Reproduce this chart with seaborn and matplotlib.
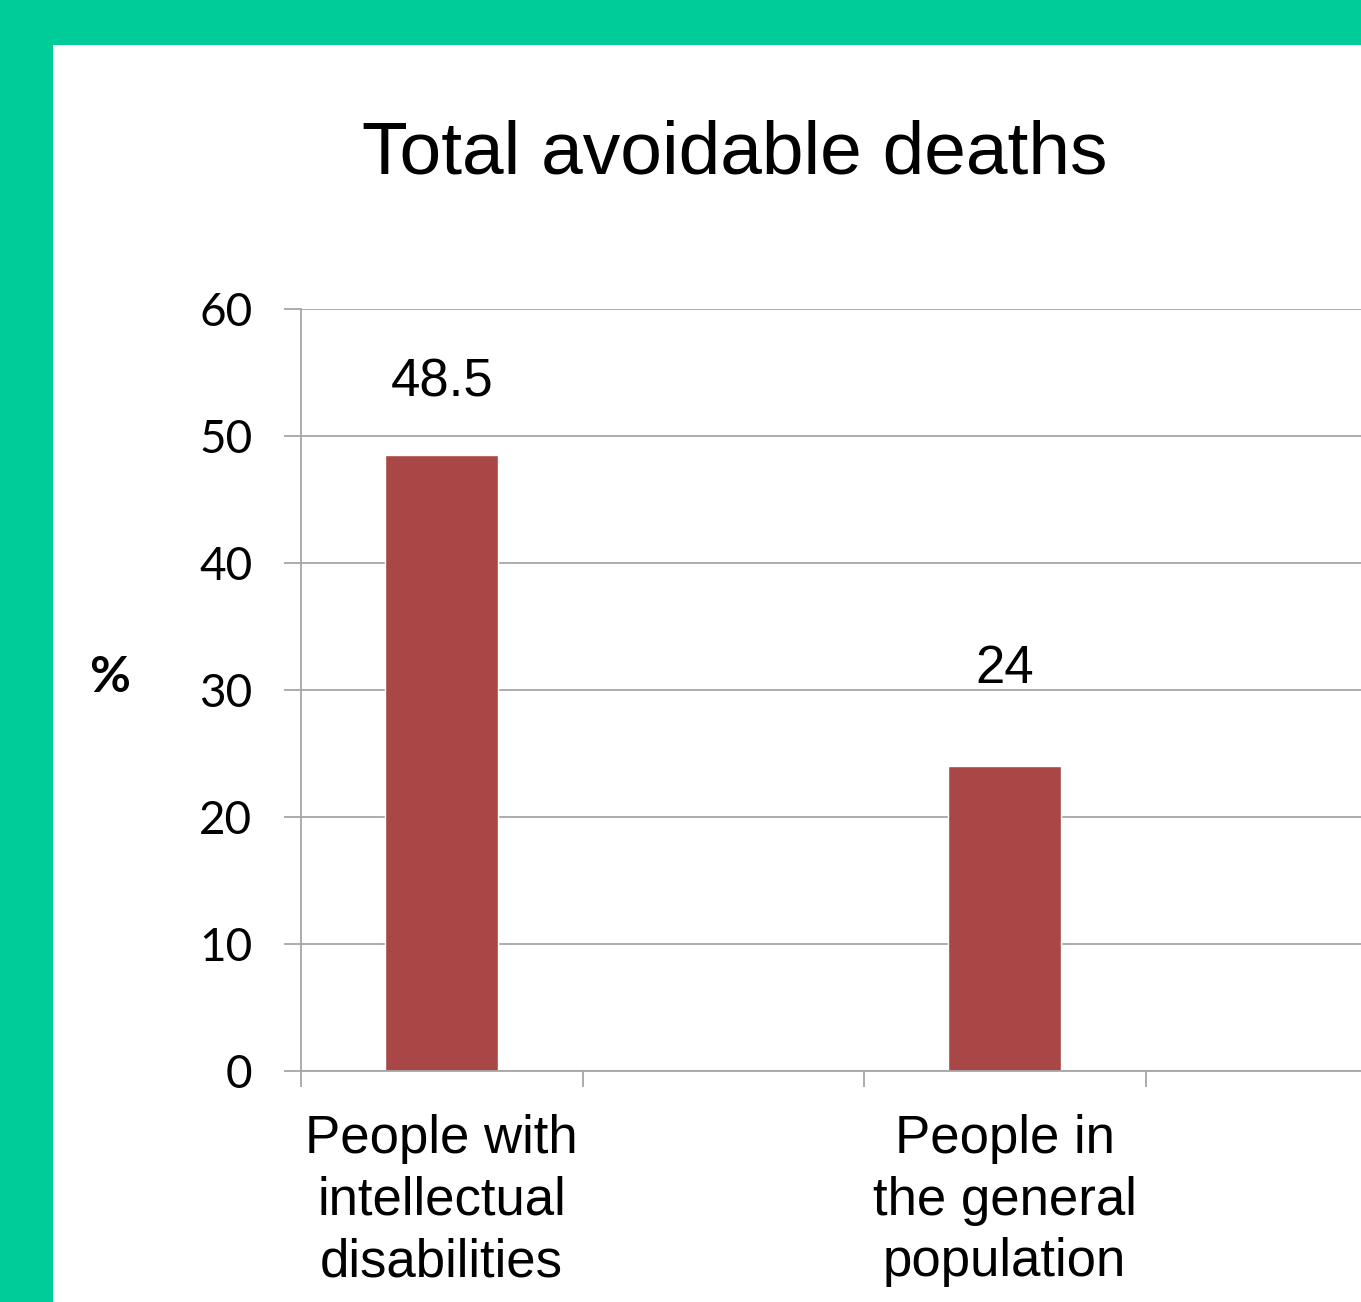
import matplotlib
matplotlib.use("Agg")
import matplotlib.pyplot as plt
import matplotlib.patches as mpatches
import seaborn as sns
import pandas as pd

# ---- data ----
categories = ["People with\nintellectual\ndisabilities", "People in\nthe general\npopulation"]
values = [48.5, 24]
value_labels = ["48.5", "24"]
y_ticks = [0, 10, 20, 30, 40, 50, 60]
title_text = "Total avoidable deaths"
y_label_text = "%"

# ---- style ----
GREEN = "#00CC99"
BAR = "#A84745"
GRID = "#A6A6A6"
label_offsets_pt = [52, 70]

sns.set_theme(style="white")
plt.rcParams["font.family"] = ["Liberation Sans", "DejaVu Sans"]

W, H = 1361, 1302
fig = plt.figure(figsize=(W / 100, H / 100), dpi=100)
fig.patch.set_facecolor(GREEN)
fig.patches.append(mpatches.Rectangle((53 / W, 0), 1, 1 - 45 / H, transform=fig.transFigure,
                                      facecolor="white", edgecolor="none", zorder=-5))

left, bottom = 301 / W, 1 - 1071 / H
ax = fig.add_axes([left, bottom, 1126 / W, 762 / H])
ax.set_zorder(2)
ax.set_facecolor("none")

df = pd.DataFrame({"cat": categories, "val": values})
sns.barplot(data=df, x="cat", y="val", color=BAR, width=0.2, saturation=1, ax=ax, zorder=3)

ax.set_xlim(-0.25, 1.75)
ax.set_ylim(0, 60)
ax.set_yticks(y_ticks)
ax.set_xlabel("")
ax.set_ylabel("")

for s in ["top", "right"]:
    ax.spines[s].set_visible(False)
for s in ["left", "bottom"]:
    ax.spines[s].set_color(GRID)
    ax.spines[s].set_linewidth(1.3)
    ax.spines[s].set_zorder(4)

ax.yaxis.grid(True, color=GRID, linewidth=1.3, zorder=0)
ax.set_axisbelow(True)

ax.tick_params(axis="y", which="major", direction="out", length=12, width=1.3, color=GRID,
               pad=23, left=True, labelsize=33, labelcolor="black")
for t in ax.get_yticklabels():
    t.set_fontfamily(["Lato", "DejaVu Sans"])

ax.set_xticks([-0.25, 0.25, 0.75, 1.25], minor=True)
ax.tick_params(axis="x", which="minor", direction="out", length=11.5, width=1.3, color=GRID, bottom=True)
ax.tick_params(axis="x", which="major", length=0, pad=31, labelsize=38, labelcolor="black")
for t in ax.get_xticklabels():
    t.set_linespacing(1.30)
    t.set_horizontalalignment("center")

for i, (v, lab) in enumerate(zip(values, value_labels)):
    ax.annotate(lab, xy=(i, v), xytext=(0, label_offsets_pt[i]), textcoords="offset points",
                ha="center", va="center", fontsize=38, color="black")

fig.text(735 / W, 1 - 154 / H, title_text, ha="center", va="center", fontsize=54, color="black")
fig.text(110 / W, 1 - 678 / H, y_label_text, ha="center", va="center", fontsize=36,
         fontweight="bold", family=["Lato", "DejaVu Sans"], color="black")

fig.savefig("out.png", dpi=100, facecolor=fig.get_facecolor())
